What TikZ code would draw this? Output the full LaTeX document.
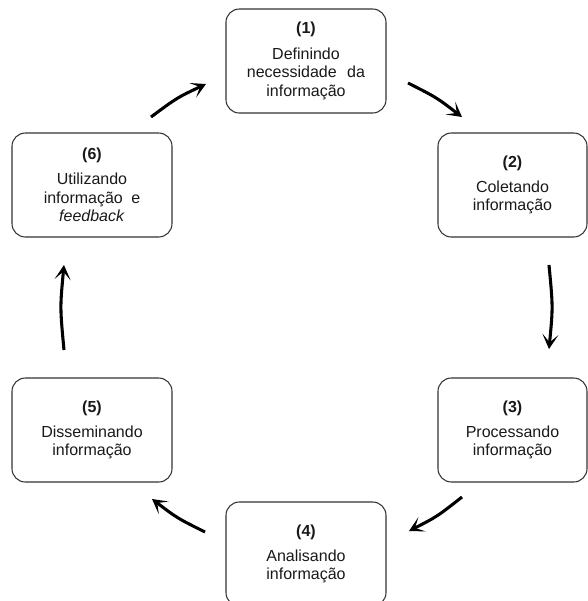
\documentclass[tikz,border=0pt]{standalone}
\usepackage{fontspec}
\setmainfont{Liberation Sans}
\usetikzlibrary{arrows.meta}
\begin{document}
\begin{tikzpicture}[x=0.75pt,y=-0.75pt,
  stage/.style={draw=black!80, line width=0.8pt, rounded corners=10pt,
    minimum height=78pt, align=center, inner sep=0pt,
    font=\fontsize{12pt}{13.9pt}\selectfont, text=black!90},
  wide/.style={stage, minimum width=120pt},
  narrow/.style={stage, minimum width=111.75pt},
  flow/.style={line width=2.3pt, -{Stealth[length=11pt,width=12pt,inset=6pt]}}]
\useasboundingbox (0,0) rectangle (588,601);
\node[wide]   (b1) at (306,61)  {\textbf{(1)}\\[5pt]Definindo\\necessidade\hspace{4.5pt} da\\informação};
\node[narrow] (b2) at (512.5,185) {\textbf{(2)}\\[5pt]Coletando\\informação};
\node[narrow] (b3) at (512.5,430) {\textbf{(3)}\\[5pt]Processando\\informação};
\node[wide]   (b4) at (306,554) {\textbf{(4)}\\[5pt]Analisando\\informação};
\node[wide]   (b5) at (92,430)  {\textbf{(5)}\\[5pt]Disseminando\\informação};
\node[wide]   (b6) at (92,185)  {\textbf{(6)}\\[5pt]Utilizando\\informação\hspace{3pt} e\\\textit{feedback}};
\coordinate (s61) at (151,117); \coordinate (e61) at (206,84);
\coordinate (s12) at (408,83);  \coordinate (e12) at (462,117);
\coordinate (s23) at (549,265); \coordinate (e23) at (549,349);
\coordinate (s34) at (462,497); \coordinate (e34) at (409,531);
\coordinate (s45) at (205,532); \coordinate (e45) at (152,499);
\coordinate (s56) at (64,350);  \coordinate (e56) at (64,265);
\draw[flow] (s61) .. controls (177,97.7) .. (e61);
\draw[flow] (s12) .. controls (436.6,97.5) .. (e12);
\draw[flow] (s23) .. controls (553,307) .. (e23);
\draw[flow] (s34) .. controls (437.2,516.5) .. (e34);
\draw[flow] (s45) .. controls (177,518) .. (e45);
\draw[flow] (s56) .. controls (60,307.5) .. (e56);
\end{tikzpicture}
\end{document}
